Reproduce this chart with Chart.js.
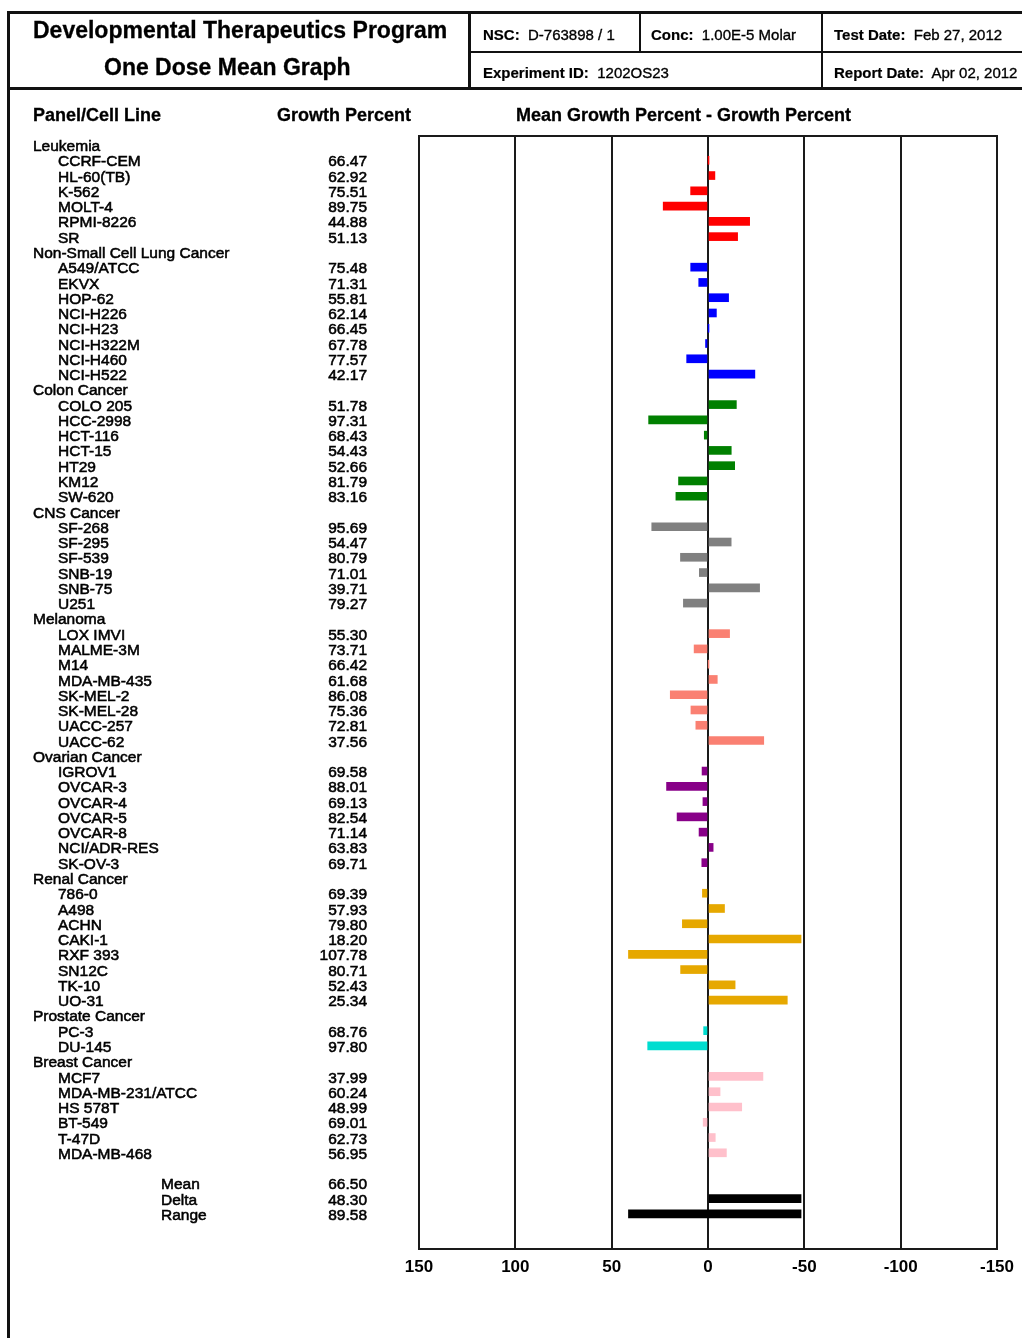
<!DOCTYPE html>
<html>
<head>
<meta charset="utf-8">
<script src="https://cdn.jsdelivr.net/npm/chart.js@4.4.1/dist/chart.umd.min.js"></script>
<style>
html,body{margin:0;padding:0;background:#fff;width:1022px;height:1338px;overflow:hidden;font-family:"Liberation Sans",Arial,sans-serif;color:#000;}
#c{position:absolute;left:0;top:0;z-index:1;}
.ln{position:absolute;background:#111;z-index:2;}
.t{position:absolute;white-space:nowrap;z-index:2;}
.title{font-size:23px;line-height:23px;font-weight:bold;-webkit-text-stroke:0.3px #000;}
.info{font-size:15px;line-height:15px;-webkit-text-stroke:0.35px #000;}
.info b{font-weight:bold;-webkit-text-stroke:0.2px #000;}
.hd{font-size:18px;line-height:18px;font-weight:bold;-webkit-text-stroke:0.3px #000;}
</style>
</head>
<body>
<canvas id="c" width="1022" height="1338"></canvas>

<div class="ln" style="left:7px;top:11px;width:1015px;height:3px"></div>
<div class="ln" style="left:7px;top:11px;width:3px;height:1327px"></div>
<div class="ln" style="left:7px;top:87px;width:1015px;height:3px"></div>
<div class="ln" style="left:468px;top:11px;width:3px;height:79px"></div>
<div class="ln" style="left:470px;top:51px;width:552px;height:2px"></div>
<div class="ln" style="left:639px;top:11px;width:2px;height:41px"></div>
<div class="ln" style="left:821px;top:11px;width:2px;height:78px"></div>

<div class="t title" style="left:33px;top:18.7px">Developmental Therapeutics Program</div>
<div class="t title" style="left:104px;top:55.7px">One Dose Mean Graph</div>
<div class="t info" style="left:483px;top:26.6px"><b>NSC:</b>&nbsp; D-763898 / 1</div>
<div class="t info" style="left:651px;top:26.6px"><b>Conc:</b>&nbsp; 1.00E-5 Molar</div>
<div class="t info" style="left:834px;top:26.6px"><b>Test Date:</b>&nbsp; Feb 27, 2012</div>
<div class="t info" style="left:483px;top:64.6px"><b>Experiment ID:</b>&nbsp; 1202OS23</div>
<div class="t info" style="left:834px;top:64.6px"><b>Report Date:</b>&nbsp; Apr 02, 2012</div>
<div class="t hd" style="left:33px;top:106.2px">Panel/Cell Line</div>
<div class="t hd" style="left:277px;top:106.2px">Growth Percent</div>
<div class="t hd" style="left:516px;top:106.2px">Mean Growth Percent - Growth Percent</div>

<script>
// ---------- DATA ----------
const panelNames = ['Leukemia','Non-Small Cell Lung Cancer','Colon Cancer','CNS Cancer','Melanoma','Ovarian Cancer','Renal Cancer','Prostate Cancer','Breast Cancer'];
const panelColors = ['#FF0000','#0000FF','#008000','#808080','#FA8072','#880088','#E6A800','#00DDD0','#FFC0CB'];

const leukemiaLines = ['CCRF-CEM','HL-60(TB)','K-562','MOLT-4','RPMI-8226','SR'];
const leukemiaGP    = [66.47, 62.92, 75.51, 89.75, 44.88, 51.13];
const nsclcLines = ['A549/ATCC','EKVX','HOP-62','NCI-H226','NCI-H23','NCI-H322M','NCI-H460','NCI-H522'];
const nsclcGP    = [75.48, 71.31, 55.81, 62.14, 66.45, 67.78, 77.57, 42.17];
const colonLines = ['COLO 205','HCC-2998','HCT-116','HCT-15','HT29','KM12','SW-620'];
const colonGP    = [51.78, 97.31, 68.43, 54.43, 52.66, 81.79, 83.16];
const cnsLines = ['SF-268','SF-295','SF-539','SNB-19','SNB-75','U251'];
const cnsGP    = [95.69, 54.47, 80.79, 71.01, 39.71, 79.27];
const melanomaLines = ['LOX IMVI','MALME-3M','M14','MDA-MB-435','SK-MEL-2','SK-MEL-28','UACC-257','UACC-62'];
const melanomaGP    = [55.30, 73.71, 66.42, 61.68, 86.08, 75.36, 72.81, 37.56];
const ovarianLines = ['IGROV1','OVCAR-3','OVCAR-4','OVCAR-5','OVCAR-8','NCI/ADR-RES','SK-OV-3'];
const ovarianGP    = [69.58, 88.01, 69.13, 82.54, 71.14, 63.83, 69.71];
const renalLines = ['786-0','A498','ACHN','CAKI-1','RXF 393','SN12C','TK-10','UO-31'];
const renalGP    = [69.39, 57.93, 79.80, 18.20, 107.78, 80.71, 52.43, 25.34];
const prostateLines = ['PC-3','DU-145'];
const prostateGP    = [68.76, 97.80];
const breastLines = ['MCF7','MDA-MB-231/ATCC','HS 578T','BT-549','T-47D','MDA-MB-468'];
const breastGP    = [37.99, 60.24, 48.99, 69.01, 62.73, 56.95];

const summaryLabels = ['Mean','Delta','Range'];
const summaryValues = [66.50, 48.30, 89.58];

const xTickValues = [150, 100, 50, 0, -50, -100, -150];

// ---------- BUILD ROWS ----------
const panelLines = [leukemiaLines, nsclcLines, colonLines, cnsLines, melanomaLines, ovarianLines, renalLines, prostateLines, breastLines];
const panelGP = [leukemiaGP, nsclcGP, colonGP, cnsGP, melanomaGP, ovarianGP, renalGP, prostateGP, breastGP];
const meanGP = summaryValues[0], deltaGP = summaryValues[1], rangeGP = summaryValues[2];

const rows = [];
const barData = [];
const barColors = [];
panelNames.forEach((name, p) => {
  rows.push({kind: 'panel', label: name});
  panelLines[p].forEach((line, i) => {
    const r = rows.length;
    rows.push({kind: 'cell', label: line, value: panelGP[p][i].toFixed(2)});
    barData.push({y: r, x: [0, panelGP[p][i] - meanGP]});
    barColors.push(panelColors[p]);
  });
});
rows.push({kind: 'blank'});
summaryLabels.forEach((s, i) => rows.push({kind: 'summary', label: s, value: summaryValues[i].toFixed(2)}));
const deltaRow = rows.length - 2, rangeRow = rows.length - 1;
barData.push({y: deltaRow, x: [0, -deltaGP]}); barColors.push('#000000');
barData.push({y: rangeRow, x: [rangeGP - deltaGP, -deltaGP]}); barColors.push('#000000');

// ---------- CHART ----------
const FONT = '"Liberation Sans", Arial, sans-serif';
const rowText = {
  id: 'rowText',
  afterDraw(chart) {
    const {ctx, chartArea: a, scales: {y}} = chart;
    ctx.save();
    ctx.strokeStyle = '#1a1a1a';
    ctx.lineWidth = 2;
    ctx.beginPath();
    ctx.moveTo(a.left - 1, Math.round(a.top));
    ctx.lineTo(a.right + 1, Math.round(a.top));
    ctx.stroke();
    ctx.fillStyle = '#000';
    ctx.strokeStyle = '#000';
    ctx.lineWidth = 0.55;
    ctx.textBaseline = 'middle';
    ctx.font = '15.5px ' + FONT;
    const put = (txt, x, yy, align) => {
      ctx.textAlign = align;
      ctx.fillText(txt, x, yy);
      ctx.strokeText(txt, x, yy);
    };
    rows.forEach((r, i) => {
      const py = y.getPixelForValue(i) + 1.8;
      if (r.kind === 'panel') {
        put(r.label, 33, py, 'left');
      } else if (r.kind === 'cell') {
        put(r.label, 58, py, 'left');
        put(r.value, 367, py, 'right');
      } else if (r.kind === 'summary') {
        put(r.label, 161, py, 'left');
        put(r.value, 367, py, 'right');
      }
    });
    ctx.restore();
  }
};

new Chart(document.getElementById('c'), {
  type: 'bar',
  data: {
    datasets: [{
      data: barData,
      backgroundColor: barColors,
      borderWidth: 0,
      barThickness: 8
    }]
  },
  options: {
    indexAxis: 'y',
    responsive: false,
    animation: false,
    devicePixelRatio: 1,
    layout: {padding: {left: 419, right: 25, top: 136, bottom: 49}},
    plugins: {legend: {display: false}, tooltip: {enabled: false}},
    scales: {
      x: {
        type: 'linear',
        min: -150, max: 150,
        reverse: true,
        afterBuildTicks: s => { s.ticks = xTickValues.map(v => ({value: v})); },
        afterFit: s => { s.height = 40; },
        ticks: {
          color: '#000',
          padding: 8,
          font: {family: FONT, size: 17, weight: 'bold'},
          callback: v => String(v)
        },
        grid: {color: '#1a1a1a', lineWidth: 2, drawTicks: false},
        border: {display: true, color: '#1a1a1a', width: 2}
      },
      y: {
        type: 'linear',
        display: false,
        reverse: true,
        offset: false,
        min: -0.59,
        max: 72.3,
        grid: {display: false}
      }
    }
  },
  plugins: [rowText]
});
</script>
</body>
</html>
